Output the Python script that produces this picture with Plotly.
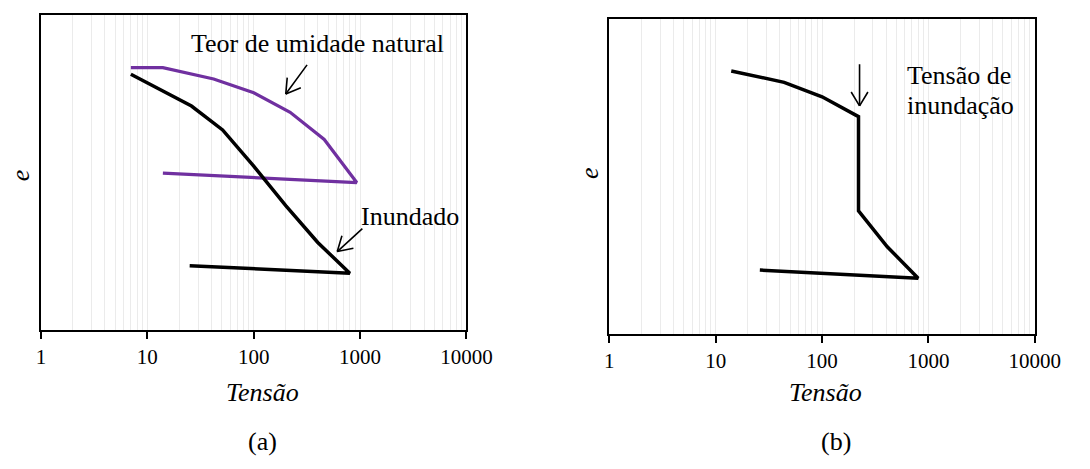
import math
import plotly.graph_objects as go

# (a) natural moisture content vs. flooded specimen
natural_stress = [7, 14, 42, 100, 220, 460, 930, 14]
natural_e = [0.833, 0.833, 0.797, 0.753, 0.691, 0.605, 0.468, 0.498]

flooded_stress = [7, 26, 51, 100, 200, 400, 800, 25]
flooded_e = [0.812, 0.711, 0.635, 0.52, 0.395, 0.278, 0.18, 0.204]

# (b) specimen flooded during loading
single_stress = [14, 44, 100, 220, 220, 410, 800, 26]
single_e = [0.835, 0.799, 0.753, 0.69, 0.391, 0.277, 0.177, 0.203]

x_tick_vals = [1, 10, 100, 1000, 10000]
x_tick_text = ["1", "10", "100", "1000", "10000"]

W, H = 1090, 469
FONT = "Liberation Serif"
PURPLE = "#7030A0"

fig = go.Figure()

fig.add_trace(go.Scatter(x=natural_stress, y=natural_e, mode="lines",
                         line=dict(color=PURPLE, width=3.2),
                         xaxis="x", yaxis="y", showlegend=False))
fig.add_trace(go.Scatter(x=flooded_stress, y=flooded_e, mode="lines",
                         line=dict(color="black", width=3.5),
                         xaxis="x", yaxis="y", showlegend=False))
fig.add_trace(go.Scatter(x=single_stress, y=single_e, mode="lines",
                         line=dict(color="black", width=3.5),
                         xaxis="x2", yaxis="y2", showlegend=False))

xaxis_style = dict(
    type="log", range=[0, 4],
    tickvals=x_tick_vals, ticktext=x_tick_text,
    ticks="outside", ticklen=7, tickwidth=2, tickcolor="black",
    tickfont=dict(family=FONT, size=21, color="black"),
    showgrid=True, gridcolor="#ebebeb", gridwidth=1,
    minor=dict(dtick="D1", showgrid=True, gridcolor="#ebebeb", gridwidth=1, ticks=""),
    showline=True, linecolor="black", linewidth=2, mirror=True,
    zeroline=False, fixedrange=True,
)
yaxis_style = dict(
    range=[0, 1], showticklabels=False, ticks="", showgrid=False,
    showline=True, linecolor="black", linewidth=2, mirror=True,
    zeroline=False, fixedrange=True,
)

fig.update_layout(
    width=W, height=H,
    margin=dict(l=0, r=0, t=0, b=0),
    paper_bgcolor="white", plot_bgcolor="white",
    xaxis=dict(domain=[37 / W, 475 / W], anchor="y", **xaxis_style),
    yaxis=dict(domain=[1 - 330 / H, 1 - 15 / H], anchor="x", **yaxis_style),
    xaxis2=dict(domain=[622 / W, 1060 / W], anchor="y2", **xaxis_style),
    yaxis2=dict(domain=[1 - 334 / H, 1 - 19 / H], anchor="x2", **yaxis_style),
)

annotations = []


def text_note(text, x, y, xref="paper", yref="paper", size=26, italic=False,
              xanchor="center", angle=0):
    annotations.append(dict(
        text=text, x=x, y=y, xref=xref, yref=yref, showarrow=False,
        xanchor=xanchor, yanchor="middle", textangle=angle,
        font=dict(family=FONT, size=size, color="black",
                  style="italic" if italic else "normal"),
    ))


def open_arrow(xref, yref, stress, e, dx, dy, head=18, spread=31):
    """Line arrow ending at (stress, e); tail offset (dx, dy) in pixels."""
    tip = dict(x=math.log10(stress), y=e, xref=xref, yref=yref, text="",
               showarrow=True, arrowhead=0, arrowwidth=1.6, arrowcolor="black",
               axref="pixel", ayref="pixel", standoff=0, startstandoff=0)
    annotations.append(dict(tip, ax=dx, ay=dy))
    ang = math.atan2(dy, dx)
    for s in (-1, 1):
        a = ang + s * math.radians(spread)
        annotations.append(dict(tip, ax=head * math.cos(a), ay=head * math.sin(a)))


# panel (a)
text_note("Teor de umidade natural", math.log10(400), 0.911, "x", "y")
open_arrow("x", "y", 200, 0.749, 22.4, -30.7)
text_note("Inundado", math.log10(2970), 0.36, "x", "y")
open_arrow("x", "y", 610, 0.249, 26.6, -24.4)

# panel (b)
text_note("Tensão de", math.log10(601), 0.822, "x2", "y2", xanchor="left")
text_note("inundação", math.log10(601), 0.727, "x2", "y2", xanchor="left")
open_arrow("x2", "y2", 225, 0.724, 0, -43.3)

# axis titles and panel labels
text_note("Tensão", 265 / W, 1 - 392 / H, italic=True)
text_note("Tensão", 845 / W, 1 - 392 / H, italic=True)
text_note("e", 16.7 / W, 1 - 175 / H, italic=True, angle=-90)
text_note("e", 601.7 / W, 1 - 173.3 / H, italic=True, angle=-90)
text_note("(a)", 265 / W, 1 - 441 / H)
text_note("(b)", 855 / W, 1 - 441 / H)

fig.update_layout(annotations=annotations)

fig.write_html("out.html")
